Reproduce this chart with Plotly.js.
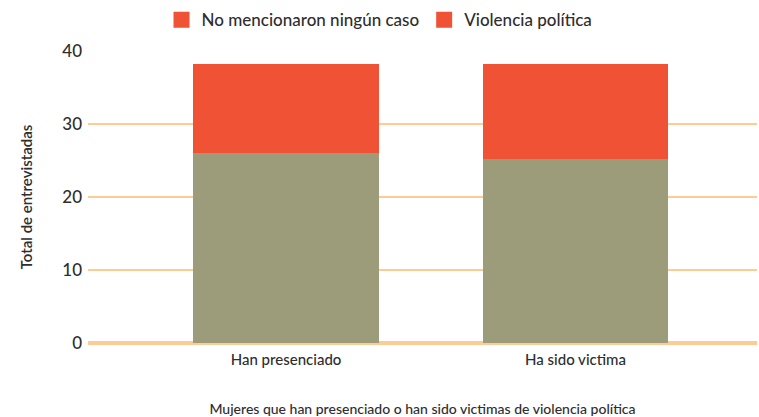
<!DOCTYPE html>
<html>
<head>
<meta charset="utf-8">
<script src="https://cdn.plot.ly/plotly-3.0.1.min.js"></script>
<style>
  body { margin: 0; background: #fff; }
  #chart { width: 759px; height: 417px; }
</style>
</head>
<body>
<div id="chart"></div>
<script>
// categories and values
const categories = ["Han presenciado", "Ha sido victima"];
const violenciaPolitica = [26, 25.2];
const noMencionaron = [12.2, 13];
const legendNames = ["No mencionaron ningún caso", "Violencia política"];

const green = "#9c9b7a";
const red = "#f05236";
const peach = "#fdcb94";
const ink = "#2e2e2e";

const traces = [
  {
    type: "bar",
    x: categories,
    y: violenciaPolitica,
    marker: { color: green },
    showlegend: false,
    hoverinfo: "y"
  },
  {
    type: "bar",
    x: categories,
    y: noMencionaron,
    marker: { color: red },
    showlegend: false,
    hoverinfo: "y"
  }
];

// legend swatches (both shown red in the original)
legendNames.forEach(name => {
  traces.push({
    type: "scatter",
    mode: "markers",
    x: [null],
    y: [null],
    name: name,
    marker: { color: red, symbol: "square", size: 16 }
  });
});

const layout = {
  width: 759,
  height: 417,
  barmode: "stack",
  bargap: 0.36,
  paper_bgcolor: "#fff",
  plot_bgcolor: "#fff",
  font: { family: "Lato, 'Open Sans', sans-serif", color: ink, weight: 500 },
  margin: { l: 88, r: 2, t: 51, b: 74 },
  showlegend: true,
  legend: {
    orientation: "h",
    xref: "container",
    yref: "container",
    x: 0.5,
    xanchor: "center",
    y: 0.995,
    yanchor: "top",
    font: { size: 17, color: ink, weight: 500 },
    itemwidth: 30,
    traceorder: "normal"
  },
  xaxis: {
    range: [-0.684, 1.627],
    showgrid: false,
    showline: false,
    ticks: "",
    ticklabelstandoff: 6,
    tickfont: { size: 15, color: ink, weight: 500 },
    title: {
      text: "Mujeres que han presenciado o han sido victimas de violencia política",
      font: { size: 14, color: ink, weight: 500 },
      standoff: 38
    }
  },
  yaxis: {
    range: [0, 40],
    tickvals: [0, 10, 20, 30, 40],
    showgrid: true,
    gridcolor: peach,
    gridwidth: 2,
    zeroline: true,
    zerolinecolor: peach,
    zerolinewidth: 4,
    showline: false,
    ticks: "",
    ticklabelstandoff: 5,
    tickfont: { size: 17, color: ink, weight: 500 },
    title: {
      text: "Total de entrevistadas",
      font: { size: 15, color: ink, weight: 600 },
      standoff: 26
    }
  }
};

Plotly.newPlot("chart", traces, layout, { displayModeBar: false, staticPlot: true });
</script>
</body>
</html>
